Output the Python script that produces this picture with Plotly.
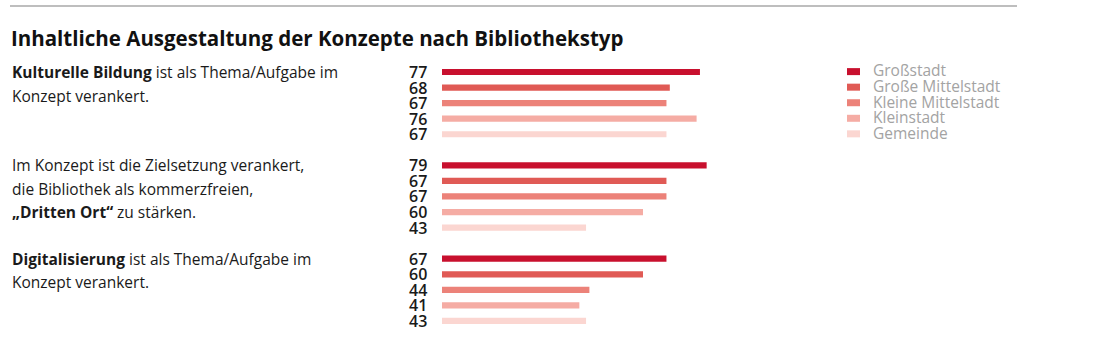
import plotly.graph_objects as go

# ---- data ----
series = ["Großstadt", "Große Mittelstadt", "Kleine Mittelstadt", "Kleinstadt", "Gemeinde"]
colors = ["#c8102e", "#e05a55", "#ec8279", "#f5aca4", "#fbd6d1"]
cat_lines = [
    ["<b>Kulturelle Bildung</b> ist als Thema/Aufgabe im", "Konzept verankert."],
    ["Im Konzept ist die Zielsetzung verankert,", "die Bibliothek als kommerzfreien,",
     "<b>„Dritten Ort“</b> zu stärken."],
    ["<b>Digitalisierung</b> ist als Thema/Aufgabe im", "Konzept verankert."],
]
values = {
    "Großstadt":          [77, 79, 67],
    "Große Mittelstadt":  [68, 67, 60],
    "Kleine Mittelstadt": [67, 67, 44],
    "Kleinstadt":         [76, 60, 41],
    "Gemeinde":           [67, 43, 43],
}
title = "Inhaltliche Ausgestaltung der Konzepte nach Bibliothekstyp"

W, H = 1100, 342
GROUP_STEP = 6
FONT = "Open Sans"

fig = go.Figure()
annotations = []
shapes = []

for s, name in enumerate(series):
    ys = [g * GROUP_STEP + s for g in range(len(cat_lines))]
    fig.add_trace(go.Bar(
        x=values[name], y=ys, orientation="h", name=name,
        marker=dict(color=colors[s], line=dict(width=0)),
        width=0.4, showlegend=False, hoverinfo="x+name",
    ))
    for g, v in enumerate(values[name]):
        annotations.append(dict(
            x=429 / W, xref="paper", y=ys[g], yref="y", text=str(v),
            showarrow=False, xanchor="right", yanchor="middle",
            font=dict(family=FONT, size=16, color="#1a1a1a", weight=600),
        ))
    # custom legend aligned to the first group rows
    shapes.append(dict(type="rect", xref="paper", yref="y",
                       x0=847 / W, x1=860 / W, y0=s - 0.25, y1=s + 0.2,
                       fillcolor=colors[s], line=dict(width=0)))
    annotations.append(dict(
        x=871 / W, xref="paper", y=s - 0.1, yref="y", text=name,
        showarrow=False, xanchor="left", yanchor="middle",
        font=dict(family=FONT, size=15.5, color="#a3a3a3"),
    ))

for g, lines in enumerate(cat_lines):
    for i, line in enumerate(lines):
        annotations.append(dict(
            x=10 / W, xref="paper", y=g * GROUP_STEP, yref="y", yshift=-23.5 * i,
            text=line, showarrow=False, xanchor="left", yanchor="middle",
            font=dict(family=FONT, size=15.5, color="#1a1a1a"),
        ))

annotations.append(dict(
    x=9 / W, xref="paper", y=1 - 38 / H, yref="paper", text="<b>" + title + "</b>",
    showarrow=False, xanchor="left", yanchor="middle",
    font=dict(family=FONT, size=20.5, color="#111111"),
))
shapes.append(dict(type="line", xref="paper", yref="paper",
                   x0=10 / W, x1=1017 / W, y0=1 - 6 / H, y1=1 - 6 / H,
                   line=dict(color="#a8a8a8", width=1.5)))

# y pixel = 72 + 15.56 * row
row_px, y0_px = 15.56, 72
fig.update_layout(
    width=W, height=H, margin=dict(l=0, r=0, t=0, b=0),
    paper_bgcolor="white", plot_bgcolor="white",
    barmode="overlay",
    xaxis=dict(domain=[442 / W, 777 / W], range=[0, 100], visible=False),
    yaxis=dict(domain=[0, 1], range=[(H - y0_px) / row_px, -y0_px / row_px], visible=False),
    annotations=annotations, shapes=shapes,
    font=dict(family=FONT),
)
fig.write_html("out.html")
